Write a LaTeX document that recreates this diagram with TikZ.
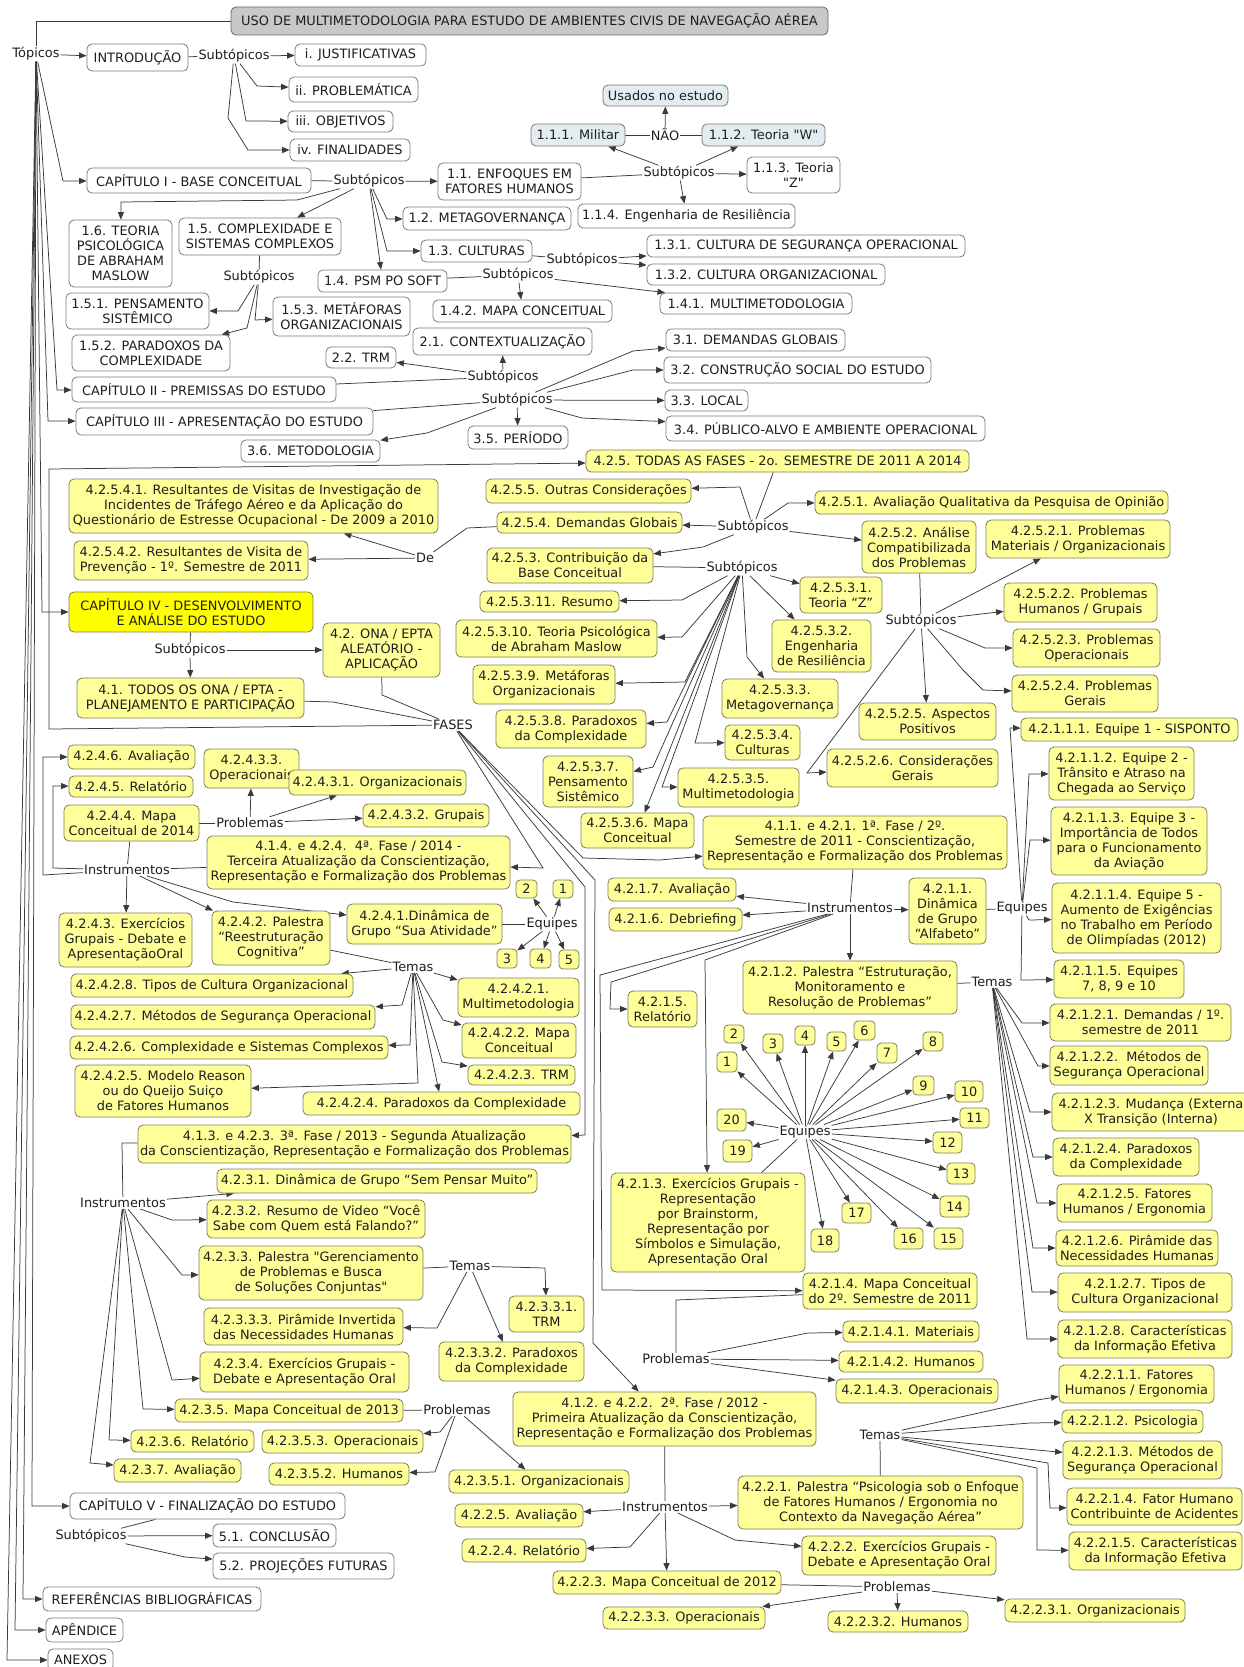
\documentclass[tikz,border=0pt]{standalone}
\usepackage{fontspec}
\setmainfont{DejaVu Sans}[Ligatures=TeXOff]
\usetikzlibrary{arrows.meta}
\definecolor{txt}{HTML}{1E1E1E}
\definecolor{edge}{HTML}{3A3A3A}
\definecolor{wbd}{HTML}{7A7A7A}
\definecolor{yfill}{HTML}{FFFF99}
\definecolor{ybd}{HTML}{7D7D58}
\definecolor{yhi}{HTML}{FFFF00}
\definecolor{bfill}{HTML}{E3ECF1}
\definecolor{tfill}{HTML}{C8C8C8}
\newcommand\mapfont{\fontsize{12.9}{15}\selectfont}
\pgfdeclarelayer{back}
\pgfdeclarelayer{bg}
\pgfsetlayers{back,bg,main}
% box given by its corners: style, name, x1, y1, x2, y2, text
\newcommand\mapbox[7]{%
  \pgfmathsetmacro\mbw{#5-#3}%
  \pgfmathsetmacro\mbh{#6-#4}%
  \pgfmathsetmacro\mbx{(#3+#5)/2}%
  \pgfmathsetmacro\mby{(#4+#6)/2}%
  \node[#1,minimum width=\mbw pt,minimum height=\mbh pt] (#2) at (\mbx,\mby) {#7};}
% linking phrase: name, position, text
\newcommand\maplabel[3]{\node[lbl] (#1) at (#2) {#3};}
\tikzset{
  cbox/.style={draw, rounded corners=5pt, align=center, inner xsep=2pt, inner ysep=1pt, font=\mapfont, text=txt, line width=0.8pt},
  wbox/.style={cbox, fill=white, draw=wbd},
  ybox/.style={cbox, fill=yfill, draw=ybd},
  hbox/.style={cbox, fill=yhi, draw=ybd},
  bbox/.style={cbox, fill=bfill, draw=wbd},
  tbox/.style={cbox, fill=tfill, draw=black!60},
  nbox/.style={ybox, inner sep=1pt, rounded corners=4pt},
  lbl/.style={inner sep=1pt, font=\mapfont, text=txt},
  ln/.style={draw=edge, line width=0.75pt},
  ar/.style={ln, -{Triangle[length=7.5pt,width=6pt]}},
}
\begin{document}
\begin{tikzpicture}[x=1pt,y=-1pt]
\useasboundingbox (0,0) rectangle (1243,1667);
\begin{pgfonlayer}{back}
\fill[white] (0,0) rectangle (1243,1667);
\end{pgfonlayer}

% ---------- top part: chapters I to III
\mapbox{tbox}{title}{231}{7}{828}{35}{USO DE MULTIMETODOLOGIA PARA ESTUDO DE AMBIENTES CIVIS DE NAVEGAÇÃO AÉREA}
\maplabel{topicos}{36,54}{Tópicos}
\mapbox{wbox}{intro}{87}{44}{188}{71}{INTRODUÇÃO}
\maplabel{sIntro}{234,56}{Subtópicos}
\mapbox{wbox}{just}{295}{44}{426}{66}{i. JUSTIFICATIVAS}
\mapbox{wbox}{probl}{289}{77}{418}{102}{ii. PROBLEMÁTICA}
\mapbox{wbox}{obj}{288}{111}{393}{132}{iii. OBJETIVOS}
\mapbox{wbox}{fin}{290}{139}{410}{161}{iv. FINALIDADES}
\mapbox{wbox}{capI}{87}{168}{311}{193}{CAPÍTULO I - BASE CONCEITUAL}
\maplabel{sCapI}{369,181}{Subtópicos}
\mapbox{wbox}{n11}{438}{163}{581}{200}{1.1. ENFOQUES EM\\FATORES HUMANOS}
\mapbox{wbox}{n16}{69}{220}{172}{287}{1.6. TEORIA\\PSICOLÓGICA\\DE ABRAHAM\\MASLOW}
\mapbox{wbox}{n15}{179}{218}{341}{255}{1.5. COMPLEXIDADE E\\SISTEMAS COMPLEXOS}
\maplabel{s15}{259,277}{Subtópicos}
\mapbox{wbox}{n151}{66}{293}{209}{329}{1.5.1. PENSAMENTO\\SISTÊMICO}
\mapbox{wbox}{n152}{72}{335}{230}{371}{1.5.2. PARADOXOS DA\\COMPLEXIDADE}
\mapbox{wbox}{n153}{273}{297}{410}{336}{1.5.3. METÁFORAS\\ORGANIZACIONAIS}
\mapbox{wbox}{n12}{403}{207}{571}{230}{1.2. METAGOVERNANÇA}
\mapbox{wbox}{n13}{421}{240}{532}{262}{1.3. CULTURAS}
\mapbox{wbox}{n14}{318}{270}{447}{292}{1.4. PSM PO SOFT}
\mapbox{bbox}{usados}{603}{85}{728}{106}{Usados no estudo}
\maplabel{nao}{665,135}{NÃO}
\mapbox{bbox}{n111}{531}{124}{625}{146}{1.1.1. Militar}
\mapbox{bbox}{n112}{702}{124}{825}{146}{1.1.2. Teoria "W"}
\maplabel{s11}{679,173}{Subtópicos}
\mapbox{wbox}{n113}{747}{157}{840}{193}{1.1.3. Teoria\\"Z"}
\mapbox{wbox}{n114}{578}{204}{795}{228}{1.1.4. Engenharia de Resiliência}
\maplabel{s13}{582,260}{Subtópicos}
\mapbox{wbox}{n131}{647}{235}{965}{257}{1.3.1. CULTURA DE SEGURANÇA OPERACIONAL}
\mapbox{wbox}{n132}{647}{264}{885}{285}{1.3.2. CULTURA ORGANIZACIONAL}
\maplabel{s14}{518,275}{Subtópicos}
\mapbox{wbox}{n142}{433}{300}{612}{322}{1.4.2. MAPA CONCEITUAL}
\mapbox{wbox}{n141}{660}{293}{852}{314}{1.4.1. MULTIMETODOLOGIA}
\mapbox{wbox}{n21}{413}{328}{592}{355}{2.1. CONTEXTUALIZAÇÃO}
\maplabel{sII}{503,377}{Subtópicos}
\mapbox{wbox}{n22}{326}{347}{396}{368}{2.2. TRM}
\mapbox{wbox}{capII}{72}{377}{336}{402}{CAPÍTULO II - PREMISSAS DO ESTUDO}
\maplabel{sIII}{517,400}{Subtópicos}
\mapbox{wbox}{n31}{666}{329}{845}{351}{3.1. DEMANDAS GLOBAIS}
\mapbox{wbox}{n32}{664}{357}{931}{383}{3.2. CONSTRUÇÃO SOCIAL DO ESTUDO}
\mapbox{wbox}{n33}{665}{390}{748}{411}{3.3. LOCAL}
\mapbox{wbox}{capIII}{76}{408}{373}{435}{CAPÍTULO III - APRESENTAÇÃO DO ESTUDO}
\mapbox{wbox}{n36}{241}{440}{380}{462}{3.6. METODOLOGIA}
\mapbox{wbox}{n35}{468}{426}{568}{449}{3.5. PERÍODO}
\mapbox{wbox}{n34}{666}{416}{985}{441}{3.4. PÚBLICO-ALVO E AMBIENTE OPERACIONAL}

% ---------- chapter IV
\mapbox{ybox}{n425}{586}{450}{969}{472}{4.2.5. TODAS AS FASES - 2o. SEMESTRE DE 2011 A 2014}
\mapbox{ybox}{n42541}{69}{479}{438}{533}{4.2.5.4.1. Resultantes de Visitas de Investigação de\\Incidentes de Tráfego Aéreo e da Aplicação do\\Questionário de Estresse Ocupacional - De 2009 a 2010}
\mapbox{ybox}{n42542}{74}{541}{308}{580}{4.2.5.4.2. Resultantes de Visita de\\Prevenção - 1º. Semestre de 2011}
\maplabel{de}{425,558}{De}
\mapbox{hbox}{capIV}{69}{592}{313}{632}{CAPÍTULO IV - DESENVOLVIMENTO\\E ANÁLISE DO ESTUDO}
\maplabel{sIV}{190,650}{Subtópicos}
\mapbox{ybox}{n42}{323}{623}{440}{677}{4.2. ONA / EPTA\\ALEATÓRIO -\\APLICAÇÃO}
\mapbox{ybox}{n41}{77}{678}{304}{718}{4.1. TODOS OS ONA / EPTA -\\PLANEJAMENTO E PARTICIPAÇÃO}
\maplabel{fases}{453,725}{FASES}
\mapbox{ybox}{n4255}{486}{479}{691}{503}{4.2.5.5. Outras Considerações}
\mapbox{ybox}{n4254}{497}{512}{682}{533}{4.2.5.4. Demandas Globais}
\mapbox{ybox}{n4253}{487}{548}{653}{583}{4.2.5.3. Contribuição da\\Base Conceitual}
\maplabel{s425}{753,527}{Subtópicos}
\mapbox{ybox}{n4251}{815}{491}{1168}{514}{4.2.5.1. Avaliação Qualitativa da Pesquisa de Opinião}
\mapbox{ybox}{n4252}{862}{521}{976}{573}{4.2.5.2. Análise\\Compatibilizada\\dos Problemas}
\maplabel{s4253}{742,568}{Subtópicos}
\mapbox{ybox}{n425311}{480}{591}{619}{612}{4.2.5.3.11. Resumo}
\mapbox{ybox}{n425310}{456}{620}{657}{657}{4.2.5.3.10. Teoria Psicológica\\de Abraham Maslow}
\mapbox{ybox}{n42539}{473}{665}{615}{704}{4.2.5.3.9. Metáforas\\Organizacionais}
\mapbox{ybox}{n42538}{496}{710}{646}{748}{4.2.5.3.8. Paradoxos\\da Complexidade}
\mapbox{ybox}{n42537}{543}{756}{633}{807}{4.2.5.3.7.\\Pensamento\\Sistêmico}
\mapbox{ybox}{n42536}{581}{813}{694}{848}{4.2.5.3.6. Mapa\\Conceitual}
\mapbox{ybox}{n42535}{678}{768}{799}{807}{4.2.5.3.5.\\Multimetodologia}
\mapbox{ybox}{n42534}{725}{725}{800}{760}{4.2.5.3.4.\\Culturas}
\mapbox{ybox}{n42533}{722}{679}{838}{718}{4.2.5.3.3.\\Metagovernança}
\mapbox{ybox}{n42532}{772}{620}{871}{672}{4.2.5.3.2.\\Engenharia\\de Resiliência}
\mapbox{ybox}{n42531}{800}{577}{882}{613}{4.2.5.3.1.\\Teoria “Z”}
\maplabel{s4252}{921,621}{Subtópicos}
\mapbox{ybox}{n42521}{986}{520}{1170}{558}{4.2.5.2.1. Problemas\\Materiais / Organizacionais}
\mapbox{ybox}{n42522}{1004}{583}{1157}{622}{4.2.5.2.2. Problemas\\Humanos / Grupais}
\mapbox{ybox}{n42523}{1013}{629}{1160}{667}{4.2.5.2.3. Problemas\\Operacionais}
\mapbox{ybox}{n42524}{1012}{675}{1158}{712}{4.2.5.2.4. Problemas\\Gerais}
\mapbox{ybox}{n42525}{859}{703}{996}{740}{4.2.5.2.5. Aspectos\\Positivos}
\mapbox{ybox}{n42526}{827}{749}{998}{787}{4.2.5.2.6. Considerações\\Gerais}

% ---------- phase 4 (2014)
\mapbox{ybox}{n4246}{68}{745}{195}{769}{4.2.4.6. Avaliação}
\mapbox{ybox}{n4245}{69}{776}{193}{797}{4.2.4.5. Relatório}
\mapbox{ybox}{n42433}{204}{749}{299}{788}{4.2.4.3.3.\\Operacionais}
\mapbox{ybox}{n42431}{289}{770}{466}{795}{4.2.4.3.1. Organizacionais}
\mapbox{ybox}{n4244}{64}{805}{199}{841}{4.2.4.4. Mapa\\Conceitual de 2014}
\maplabel{p4243}{250,823}{Problemas}
\mapbox{ybox}{n42432}{363}{804}{489}{827}{4.2.4.3.2. Grupais}
\maplabel{i424}{127,870}{Instrumentos}
\mapbox{ybox}{n414}{207}{836}{510}{889}{4.1.4. e 4.2.4.\ \ 4ª. Fase / 2014 -\\Terceira Atualização da Conscientização,\\Representação e Formalização dos Problemas}
\mapbox{ybox}{n4243}{59}{913}{192}{967}{4.2.4.3. Exercícios\\Grupais - Debate e\\ApresentaçãoOral}
\mapbox{ybox}{n4242}{212}{911}{330}{965}{4.2.4.2. Palestra\\“Reestruturação\\Cognitiva”}
\mapbox{ybox}{n4241}{347}{904}{502}{944}{4.2.4.1.Dinâmica de\\Grupo “Sua Atividade”}
\maplabel{e4241}{552,924}{Equipes}
\mapbox{nbox}{a1}{553}{880}{573}{898}{1}
\mapbox{nbox}{a2}{516}{880}{537}{898}{2}
\mapbox{nbox}{a3}{497}{949}{517}{968}{3}
\mapbox{nbox}{a4}{530}{949}{551}{968}{4}
\mapbox{nbox}{a5}{559}{950}{579}{969}{5}
\maplabel{t4242}{413,967}{Temas}
\mapbox{ybox}{n42428}{71}{974}{353}{997}{4.2.4.2.8. Tipos de Cultura Organizacional}
\mapbox{ybox}{n42427}{71}{1005}{375}{1029}{4.2.4.2.7. Métodos de Segurança Operacional}
\mapbox{ybox}{n42426}{70}{1036}{388}{1059}{4.2.4.2.6. Complexidade e Sistemas Complexos}
\mapbox{ybox}{n42425}{75}{1065}{251}{1117}{4.2.4.2.5. Modelo Reason\\ou do Queijo Suiço\\de Fatores Humanos}
\mapbox{ybox}{n42424}{303}{1092}{580}{1115}{4.2.4.2.4. Paradoxos da Complexidade}
\mapbox{ybox}{n42423}{468}{1065}{575}{1085}{4.2.4.2.3. TRM}
\mapbox{ybox}{n42422}{462}{1023}{576}{1058}{4.2.4.2.2. Mapa\\Conceitual}
\mapbox{ybox}{n42421}{458}{978}{579}{1017}{4.2.4.2.1.\\Multimetodologia}

% ---------- phase 3 (2013)
\mapbox{ybox}{n413}{138}{1125}{571}{1163}{4.1.3. e 4.2.3. 3ª. Fase / 2013 - Segunda Atualização\\da Conscientização, Representação e Formalização dos Problemas}
\maplabel{i423}{123,1203}{Instrumentos}
\mapbox{ybox}{n4231}{217}{1169}{537}{1193}{4.2.3.1. Dinâmica de Grupo “Sem Pensar Muito”}
\mapbox{ybox}{n4232}{207}{1200}{425}{1238}{4.2.3.2. Resumo de Video “Você\\Sabe com Quem está Falando?”}
\mapbox{ybox}{n4233}{199}{1246}{423}{1300}{4.2.3.3. Palestra "Gerenciamento\\de Problemas e Busca\\de Soluções Conjuntas"}
\maplabel{t4233}{470,1266}{Temas}
\mapbox{ybox}{n42331}{509}{1296}{584}{1332}{4.2.3.3.1.\\TRM}
\mapbox{ybox}{n42332}{439}{1342}{584}{1381}{4.2.3.3.2. Paradoxos\\da Complexidade}
\mapbox{ybox}{n42333}{204}{1308}{403}{1345}{4.2.3.3.3. Pirâmide Invertida\\das Necessidades Humanas}
\mapbox{ybox}{n4234}{200}{1352}{409}{1392}{4.2.3.4. Exercícios Grupais -\\Debate e Apresentação Oral}
\mapbox{ybox}{n4235}{175}{1399}{403}{1422}{4.2.3.5. Mapa Conceitual de 2013}
\maplabel{p4235}{457,1410}{Problemas}
\mapbox{ybox}{n4236}{131}{1430}{254}{1452}{4.2.3.6. Relatório}
\mapbox{ybox}{n4237}{114}{1459}{241}{1482}{4.2.3.7. Avaliação}
\mapbox{ybox}{n42353}{262}{1430}{423}{1453}{4.2.3.5.3. Operacionais}
\mapbox{ybox}{n42352}{269}{1463}{409}{1485}{4.2.3.5.2. Humanos}
\mapbox{ybox}{n42351}{449}{1470}{629}{1493}{4.2.3.5.1. Organizacionais}

% ---------- chapter V and closing parts
\mapbox{wbox}{capV}{70}{1493}{345}{1519}{CAPÍTULO V - FINALIZAÇÃO DO ESTUDO}
\maplabel{sV}{91,1536}{Subtópicos}
\mapbox{wbox}{n51}{213}{1524}{336}{1547}{5.1. CONCLUSÃO}
\mapbox{wbox}{n52}{213}{1553}{394}{1579}{5.2. PROJEÇÕES FUTURAS}
\mapbox{wbox}{refs}{43}{1587}{261}{1611}{REFERÊNCIAS BIBLIOGRÁFICAS}
\mapbox{wbox}{apend}{46}{1618}{123}{1642}{APÊNDICE}
\mapbox{wbox}{anexos}{48}{1649}{113}{1671}{ANEXOS}

% ---------- phase 1 (2011)
\mapbox{ybox}{n411}{703}{816}{1007}{869}{4.1.1. e 4.2.1. 1ª. Fase / 2º.\\Semestre de 2011 - Conscientização,\\Representação e Formalização dos Problemas}
\maplabel{i421}{850,908}{Instrumentos}
\mapbox{ybox}{n4217}{608}{878}{736}{901}{4.2.1.7. Avaliação}
\mapbox{ybox}{n4216}{609}{908}{742}{931}{4.2.1.6. Debriefing}
\mapbox{ybox}{n4215}{628}{991}{697}{1027}{4.2.1.5.\\Relatório}
\mapbox{ybox}{n4211}{909}{878}{986}{944}{4.2.1.1.\\Dinâmica\\de Grupo\\“Alfabeto”}
\maplabel{e4211}{1022,908}{Equipes}
\mapbox{ybox}{n42111}{1021}{718}{1238}{741}{4.2.1.1.1. Equipe 1 - SISPONTO}
\mapbox{ybox}{n42112}{1049}{747}{1194}{800}{4.2.1.1.2. Equipe 2 -\\Trânsito e Atraso na\\Chegada ao Serviço}
\mapbox{ybox}{n42113}{1051}{807}{1207}{875}{4.2.1.1.3. Equipe 3 -\\Importância de Todos\\para o Funcionamento\\da Aviação}
\mapbox{ybox}{n42114}{1052}{883}{1221}{953}{4.2.1.1.4. Equipe 5 -\\Aumento de Exigências\\no Trabalho em Período\\de Olimpíadas (2012)}
\mapbox{ybox}{n42115}{1054}{960}{1184}{998}{4.2.1.1.5. Equipes\\7, 8, 9 e 10}
\mapbox{ybox}{n4212}{743}{961}{957}{1014}{4.2.1.2. Palestra “Estruturação,\\Monitoramento e\\Resolução de Problemas”}
\maplabel{t4212}{992,982}{Temas}
\mapbox{ybox}{n42121}{1050}{1004}{1231}{1041}{4.2.1.2.1. Demandas / 1º.\\semestre de 2011}
\mapbox{ybox}{n42122}{1050}{1046}{1208}{1085}{4.2.1.2.2.\ \ Métodos de\\Segurança Operacional}
\mapbox{ybox}{n42123}{1052}{1093}{1250}{1131}{4.2.1.2.3. Mudança (Externa\\X Transição (Interna)}
\mapbox{ybox}{n42124}{1053}{1138}{1199}{1176}{4.2.1.2.4. Paradoxos\\da Complexidade}
\mapbox{ybox}{n42125}{1057}{1184}{1212}{1222}{4.2.1.2.5. Fatores\\Humanos / Ergonomia}
\mapbox{ybox}{n42126}{1056}{1230}{1218}{1266}{4.2.1.2.6. Pirâmide das\\Necessidades Humanas}
\mapbox{ybox}{n42127}{1058}{1273}{1232}{1312}{4.2.1.2.7. Tipos de\\Cultura Organizacional}
\mapbox{ybox}{n42128}{1058}{1320}{1232}{1358}{4.2.1.2.8. Características\\da Informação Efetiva}
\mapbox{ybox}{n4213}{611}{1173}{805}{1272}{4.2.1.3. Exercícios Grupais -\\Representação\\por Brainstorm,\\Representação por\\Símbolos e Simulação,\\Apresentação Oral}
\maplabel{e4213}{805,1132}{Equipes}
\mapbox{nbox}{b1}{717}{1052}{737}{1072}{1}
\mapbox{nbox}{b2}{724}{1025}{744}{1043}{2}
\mapbox{nbox}{b3}{763}{1034}{783}{1053}{3}
\mapbox{nbox}{b4}{795}{1026}{815}{1045}{4}
\mapbox{nbox}{b5}{827}{1032}{846}{1051}{5}
\mapbox{nbox}{b6}{854}{1021}{875}{1040}{6}
\mapbox{nbox}{b7}{877}{1043}{897}{1063}{7}
\mapbox{nbox}{b8}{923}{1032}{943}{1051}{8}
\mapbox{nbox}{b9}{913}{1076}{934}{1095}{9}
\mapbox{nbox}{b10}{955}{1081}{983}{1102}{10}
\mapbox{nbox}{b11}{960}{1108}{989}{1128}{11}
\mapbox{nbox}{b12}{933}{1132}{962}{1153}{12}
\mapbox{nbox}{b13}{947}{1163}{975}{1184}{13}
\mapbox{nbox}{b14}{940}{1196}{969}{1217}{14}
\mapbox{nbox}{b15}{934}{1228}{963}{1249}{15}
\mapbox{nbox}{b16}{894}{1228}{923}{1249}{16}
\mapbox{nbox}{b17}{842}{1203}{871}{1223}{17}
\mapbox{nbox}{b18}{811}{1229}{839}{1252}{18}
\mapbox{nbox}{b19}{723}{1140}{752}{1162}{19}
\mapbox{nbox}{b20}{717}{1109}{746}{1131}{20}
\mapbox{ybox}{n4214}{803}{1273}{977}{1309}{4.2.1.4. Mapa Conceitual\\do 2º. Semestre de 2011}
\maplabel{p4214}{676,1359}{Problemas}
\mapbox{ybox}{n42141}{843}{1321}{979}{1342}{4.2.1.4.1. Materiais}
\mapbox{ybox}{n42142}{839}{1351}{983}{1372}{4.2.1.4.2. Humanos}
\mapbox{ybox}{n42143}{836}{1379}{998}{1403}{4.2.1.4.3. Operacionais}

% ---------- phase 2 (2012)
\mapbox{ybox}{n412}{513}{1392}{816}{1446}{4.1.2. e 4.2.2.\ \ 2ª. Fase / 2012 -\\Primeira Atualização da Conscientização,\\Representação e Formalização dos Problemas}
\maplabel{i422}{665,1507}{Instrumentos}
\mapbox{ybox}{n4225}{455}{1504}{583}{1527}{4.2.2.5. Avaliação}
\mapbox{ybox}{n4224}{462}{1539}{586}{1562}{4.2.2.4. Relatório}
\mapbox{ybox}{n4223}{553}{1571}{781}{1594}{4.2.2.3. Mapa Conceitual de 2012}
\mapbox{ybox}{n4221}{738}{1476}{1023}{1529}{4.2.2.1. Palestra “Psicologia sob o Enfoque\\de Fatores Humanos / Ergonomia no\\Contexto da Navegação Aérea”}
\mapbox{ybox}{n4222}{802}{1536}{996}{1575}{4.2.2.2. Exercícios Grupais -\\Debate e Apresentação Oral}
\maplabel{p4223}{897,1587}{Problemas}
\mapbox{ybox}{n42233}{603}{1607}{765}{1629}{4.2.2.3.3. Operacionais}
\mapbox{ybox}{n42232}{828}{1611}{968}{1632}{4.2.2.3.2. Humanos}
\mapbox{ybox}{n42231}{1005}{1599}{1185}{1622}{4.2.2.3.1. Organizacionais}
\maplabel{t4221}{880,1435}{Temas}
\mapbox{ybox}{n42211}{1059}{1365}{1214}{1403}{4.2.2.1.1. Fatores\\Humanos / Ergonomia}
\mapbox{ybox}{n42212}{1062}{1410}{1203}{1433}{4.2.2.1.2. Psicologia}
\mapbox{ybox}{n42213}{1063}{1441}{1222}{1479}{4.2.2.1.3. Métodos de\\Segurança Operacional}
\mapbox{ybox}{n42214}{1067}{1488}{1242}{1525}{4.2.2.1.4. Fator Humano\\Contribuinte de Acidentes}
\mapbox{ybox}{n42215}{1069}{1532}{1242}{1570}{4.2.2.1.5. Características\\da Informação Efetiva}

% ================= connectors
\begin{pgfonlayer}{bg}
% title and topics
\draw[ln] (title.west) -- (36,21) -- (topicos);
\draw[ar] (topicos) -- (intro);
\draw[ln] (intro) -- (sIntro);
\draw[ar] (sIntro) -- (just);
\draw[ar] (sIntro) -- (257,86) -- (probl);
\draw[ar] (sIntro) -- (246,121) -- (obj);
\draw[ar] (sIntro) -- (228,118) -- (248,150) -- (fin);
\draw[ar] (topicos) -- (63,181) -- (capI);
\draw[ar] (topicos) -- (57,390) -- (capII);
\draw[ar] (topicos) -- (48,421) -- (capIII);
\draw[ar] (topicos) -- (42,612) -- (capIV);
\draw[ar] (topicos) -- (32,1506) -- (capV);
\draw[ar] (topicos) -- (23,1599) -- (refs);
\draw[ar] (topicos) -- (15,1630) -- (apend);
\draw[ar] (topicos) -- (7,1660) -- (anexos);
% chapter I
\draw[ln] (capI) -- (sCapI);
\draw[ar] (sCapI) -- (n11);
\draw[ar] (sCapI) -- (297,200) -- (121,202) -- (n16);
\draw[ar] (sCapI) -- (n15);
\draw[ar] (sCapI) -- (387,219) -- (n12);
\draw[ar] (sCapI) -- (387,251) -- (n13);
\draw[ar] (sCapI) -- (n14);
\draw[ln] (n15) -- (s15);
\draw[ar] (s15) -- (238,311) -- (n151);
\draw[ar] (s15) -- (247,328) -- (n152);
\draw[ar] (s15) -- (255,320) -- (n153);
\draw[ln] (n11) -- (s11);
\draw[ar] (s11) -- (n111);
\draw[ar] (s11) -- (n112);
\draw[ar] (s11) -- (n113);
\draw[ar] (s11) -- (n114);
\draw[ln] (n111) -- (nao);
\draw[ln] (nao) -- (n112);
\draw[ar] (nao) -- (usados);
\draw[ln] (n13) -- (s13);
\draw[ar] (s13) -- (n131);
\draw[ar] (s13) -- (n132);
\draw[ln] (n14) -- (s14);
\draw[ar] (s14) -- (n142);
\draw[ar] (s14) -- (n141);
% chapters II and III
\draw[ln] (capII) -- (sII);
\draw[ar] (sII) -- (n21);
\draw[ar] (sII) -- (n22);
\draw[ln] (capIII) -- (sIII);
\draw[ar] (sIII) -- (633,351) -- (n31);
\draw[ar] (sIII) -- (633,370) -- (n32);
\draw[ar] (sIII) -- (n33);
\draw[ar] (sIII) -- (582,418) -- (n34);
\draw[ar] (sIII) -- (n35);
\draw[ar] (sIII) -- (427,433) -- (n36);
% chapter IV
\draw[ln] (capIV) -- (sIV);
\draw[ar] (sIV) -- (n41);
\draw[ar] (sIV) -- (n42);
\draw[ln] (n42) -- (382,695) -- (fases);
\draw[ln] (n41) -- (333,702) -- (fases);
\draw[ar] (fases) -- (49,729) -- (49,469) -- (n425);
\draw[ar] (fases) -- (583,858) -- (660,860) -- (n411);
\draw[ar] (fases) -- (543,868) -- (n414);
\draw[ar] (fases) -- (585,887) -- (585,1135) -- (n413);
\draw[ar] (fases) -- (595,880) -- (593,1343) -- (n412);
% all phases
\draw[ln] (n4254) -- (467,528) -- (de);
\draw[ar] (de) -- (n42541);
\draw[ar] (de) -- (n42542);
\draw[ln] (n425) -- (s425);
\draw[ar] (s425) -- (740,487) -- (n4255);
\draw[ar] (s425) -- (n4254);
\draw[ar] (s425) -- (703,547) -- (n4253);
\draw[ar] (s425) -- (788,503) -- (n4251);
\draw[ar] (s425) -- (n4252);
\draw[ln] (n4253) -- (s4253);
\draw[ar] (s4253) -- (n42531);
\draw[ar] (s4253) -- (n42532);
\draw[ar] (s4253) -- (747,657) -- (n42533);
\draw[ar] (s4253) -- (695,743) -- (n42534);
\draw[ar] (s4253) -- (662,787) -- (n42535);
\draw[ar] (s4253) -- (n42536);
\draw[ar] (s4253) -- (653,767) -- (n42537);
\draw[ar] (s4253) -- (667,722) -- (n42538);
\draw[ar] (s4253) -- (685,682) -- (n42539);
\draw[ar] (s4253) -- (682,637) -- (n425310);
\draw[ar] (s4253) -- (682,600) -- (n425311);
\draw[ln] (n4252) -- (s4252);
\draw[ar] (s4252) -- (n42521);
\draw[ar] (s4252) -- (n42522);
\draw[ar] (s4252) -- (985,648) -- (n42523);
\draw[ar] (s4252) -- (963,670) -- (983,690) -- (n42524);
\draw[ar] (s4252) -- (n42525);
\draw[ar] (s4252) -- (807,773) -- (n42526);
% phase 4
\draw[ln] (n4244) -- (p4243);
\draw[ar] (p4243) -- (n42433);
\draw[ar] (p4243) -- (n42431);
\draw[ar] (p4243) -- (n42432);
\draw[ln] (n4244) -- (i424);
\draw[ln] (n414) -- (i424);
\draw[ar] (i424) -- (43,875) -- (43,757) -- (n4246);
\draw[ar] (i424) -- (53,868) -- (53,786) -- (n4245);
\draw[ar] (i424) -- (n4243);
\draw[ar] (i424) -- (n4242);
\draw[ar] (i424) -- (233,902) -- (n4241);
\draw[ln] (n4241) -- (e4241);
\foreach \k in {1,...,5} \draw[ar] (e4241) -- (a\k);
\draw[ln] (n4242) -- (t4242);
\draw[ar] (t4242) -- (n42428);
\draw[ar] (t4242) -- (402,1005) -- (n42427);
\draw[ar] (t4242) -- (410,1045) -- (n42426);
\draw[ar] (t4242) -- (418,1083) -- (n42425);
\draw[ar] (t4242) -- (n42424);
\draw[ar] (t4242) -- (442,1062) -- (n42423);
\draw[ar] (t4242) -- (443,1020) -- (n42422);
\draw[ar] (t4242) -- (n42421);
% phase 3
\draw[ln] (n413) -- (122,1143) -- (i423);
\draw[ar] (i423) -- (n4231);
\draw[ar] (i423) -- (172,1220) -- (n4232);
\draw[ar] (i423) -- (182,1275) -- (n4233);
\draw[ar] (i423) -- (172,1380) -- (n4234);
\draw[ar] (i423) -- (143,1409) -- (n4235);
\draw[ar] (i423) -- (109,1440) -- (n4236);
\draw[ar] (i423) -- (90,1463) -- (n4237);
\draw[ln] (n4233) -- (t4233);
\draw[ar] (t4233) -- (545,1268) -- (n42331);
\draw[ar] (t4233) -- (n42332);
\draw[ar] (t4233) -- (437,1328) -- (n42333);
\draw[ln] (n4235) -- (p4235);
\draw[ar] (p4235) -- (440,1432) -- (n42353);
\draw[ar] (p4235) -- (435,1472) -- (n42352);
\draw[ar] (p4235) -- (n42351);
% chapter V
\draw[ln] (capV) -- (sV);
\draw[ar] (sV) -- (n51);
\draw[ar] (sV) -- (185,1557) -- (n52);
% phase 1
\draw[ln] (n411) -- (i421);
\draw[ar] (i421) -- (n4217);
\draw[ar] (i421) -- (n4216);
\draw[ar] (i421) -- (600,975) -- (602,1290) -- (n4214);
\draw[ar] (i421) -- (611,982) -- (610,1009) -- (n4215);
\draw[ar] (i421) -- (705,960) -- (707,1165) -- (n4213);
\draw[ar] (i421) -- (n4212);
\draw[ar] (i421) -- (n4211);
\draw[ln] (n4211) -- (e4211);
\draw[ar] (e4211) -- (1010,728) -- (n42111);
\draw[ar] (e4211) -- (1029,774) -- (n42112);
\draw[ar] (e4211) -- (1030,840) -- (n42113);
\draw[ar] (e4211) -- (1029,920) -- (n42114);
\draw[ar] (e4211) -- (1021,980) -- (n42115);
\draw[ln] (n4212) -- (t4212);
\draw[ar] (t4212) -- (1022,1023) -- (n42121);
\draw[ar] (t4212) -- (1038,1066) -- (n42122);
\draw[ar] (t4212) -- (1030,1112) -- (n42123);
\draw[ar] (t4212) -- (1033,1157) -- (n42124);
\draw[ar] (t4212) -- (1037,1203) -- (n42125);
\draw[ar] (t4212) -- (1033,1248) -- (n42126);
\draw[ar] (t4212) -- (1032,1292) -- (n42127);
\draw[ar] (t4212) -- (1027,1339) -- (n42128);
\draw[ln] (n4213) -- (e4213);
\foreach \k in {1,...,20} \draw[ar] (e4213) -- (b\k);
\draw[ln] (n4214) -- (676,1300) -- (p4214);
\draw[ar] (p4214) -- (808,1333) -- (n42141);
\draw[ar] (p4214) -- (808,1360) -- (n42142);
\draw[ar] (p4214) -- (n42143);
% phase 2
\draw[ln] (n412) -- (i422);
\draw[ar] (i422) -- (n4225);
\draw[ar] (i422) -- (630,1547) -- (n4224);
\draw[ar] (i422) -- (n4223);
\draw[ar] (i422) -- (n4221);
\draw[ar] (i422) -- (735,1540) -- (n4222);
\draw[ln] (n4223) -- (p4223);
\draw[ar] (p4223) -- (n42233);
\draw[ar] (p4223) -- (n42232);
\draw[ar] (p4223) -- (n42231);
\draw[ln] (n4221) -- (t4221);
\draw[ar] (t4221) -- (1037,1400) -- (n42211);
\draw[ar] (t4221) -- (1030,1423) -- (n42212);
\draw[ar] (t4221) -- (n42213);
\draw[ar] (t4221) -- (1048,1463) -- (1050,1508) -- (n42214);
\draw[ar] (t4221) -- (1037,1468) -- (1037,1550) -- (n42215);
\end{pgfonlayer}
\end{tikzpicture}
\end{document}
